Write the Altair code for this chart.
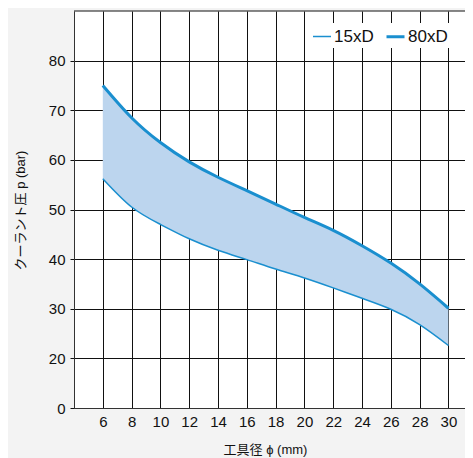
import altair as alt
import pandas as pd

# Data
diam = [6, 8, 10, 12, 14, 16, 18, 20, 22, 24, 26, 28, 30]
p80 = [75.0, 68.5, 63.5, 59.6, 56.5, 53.8, 51.1, 48.4, 45.8, 42.7, 39.2, 35.0, 30.1]
p15 = [56.2, 50.5, 47.0, 44.1, 41.8, 39.9, 38.0, 36.2, 34.2, 32.1, 29.9, 26.8, 22.6]
series = ["15xD", "80xD"]
x_ticks = [6, 8, 10, 12, 14, 16, 18, 20, 22, 24, 26, 28, 30]
y_ticks = [10, 20, 30, 40, 50, 60, 70, 80]

LINE = "#1a8fcf"
FILL = "#bcd5ee"
FONT = "Liberation Sans, Arial, 'Noto Sans CJK JP', sans-serif"

band = pd.DataFrame({"d": diam, "lo": p15, "hi": p80})
long = pd.DataFrame({
    "d": diam + diam,
    "p": p15 + p80,
    "s": [series[0]] * len(diam) + [series[1]] * len(diam),
})

xs = alt.Scale(domain=[4, 31.15], nice=False, zero=False)
ys = alt.Scale(domain=[10, 90], nice=False, zero=False)

xaxis = alt.Axis(values=x_ticks, grid=True, ticks=False, labelPadding=6,
                 labelOverlap=False, labelSeparation=0,
                 title="工具径 ϕ (mm)", titleY=41, titleBaseline="middle",
                 titleX=191, titleFontWeight="normal", titleFontSize=13)
yaxis = alt.Axis(values=y_ticks, grid=True, tickSize=4, labelPadding=5,
                 labelOverlap=False,
                 labelExpr="datum.value == 10 ? '0' : datum.label",
                 title="クーラント圧 p (bar)", titleX=-54, titleY=199,
                 titleBaseline="middle", titleFontWeight="normal", titleFontSize=13)

area = alt.Chart(band).mark_area(color=FILL, opacity=1, interpolate="natural").encode(
    x=alt.X("d:Q", scale=xs, axis=xaxis),
    y=alt.Y("lo:Q", scale=ys, axis=yaxis),
    y2="hi:Q",
)

lines = alt.Chart(long).mark_line(color=LINE, interpolate="natural").encode(
    x=alt.X("d:Q", scale=xs, axis=xaxis),
    y=alt.Y("p:Q", scale=ys, axis=yaxis),
    strokeWidth=alt.StrokeWidth(
        "s:O",
        scale=alt.Scale(domain=series, range=[1.5, 3]),
        legend=alt.Legend(
            title=None, orient="none", legendX=235, legendY=12,
            direction="horizontal", fillColor="white", padding=3,
            symbolType="stroke", symbolSize=324, symbolStrokeColor=LINE,
            labelFontSize=17, labelOffset=2, columnPadding=6,
            labelColor="#111", labelFont=FONT,
        ),
    ),
    detail="s:N",
)

top = alt.Chart(pd.DataFrame({"v": [90]})).mark_rule(color="#111", strokeWidth=1).encode(
    y=alt.Y("v:Q", scale=ys, axis=yaxis),
)

chart = alt.layer(area, lines, top).properties(
    width=391, height=397,
    autosize=alt.AutoSizeParams(type="none"),
    padding={"left": 66, "top": 3, "right": 0, "bottom": 50},
    background="#f3f3f3",
).configure(
    font=FONT,
).configure_view(
    fill="white", stroke=None,
).configure_axis(
    gridColor="#111", gridOpacity=1, gridWidth=1,
    domainColor="#333", domainWidth=1,
    tickColor="#111", labelOverlap=False,
    labelFont=FONT, labelFontSize=15, labelColor="#111",
    titleFont=FONT, titleColor="#111",
)

chart.save("out.html", embed_options={"renderer": "svg", "actions": False})
